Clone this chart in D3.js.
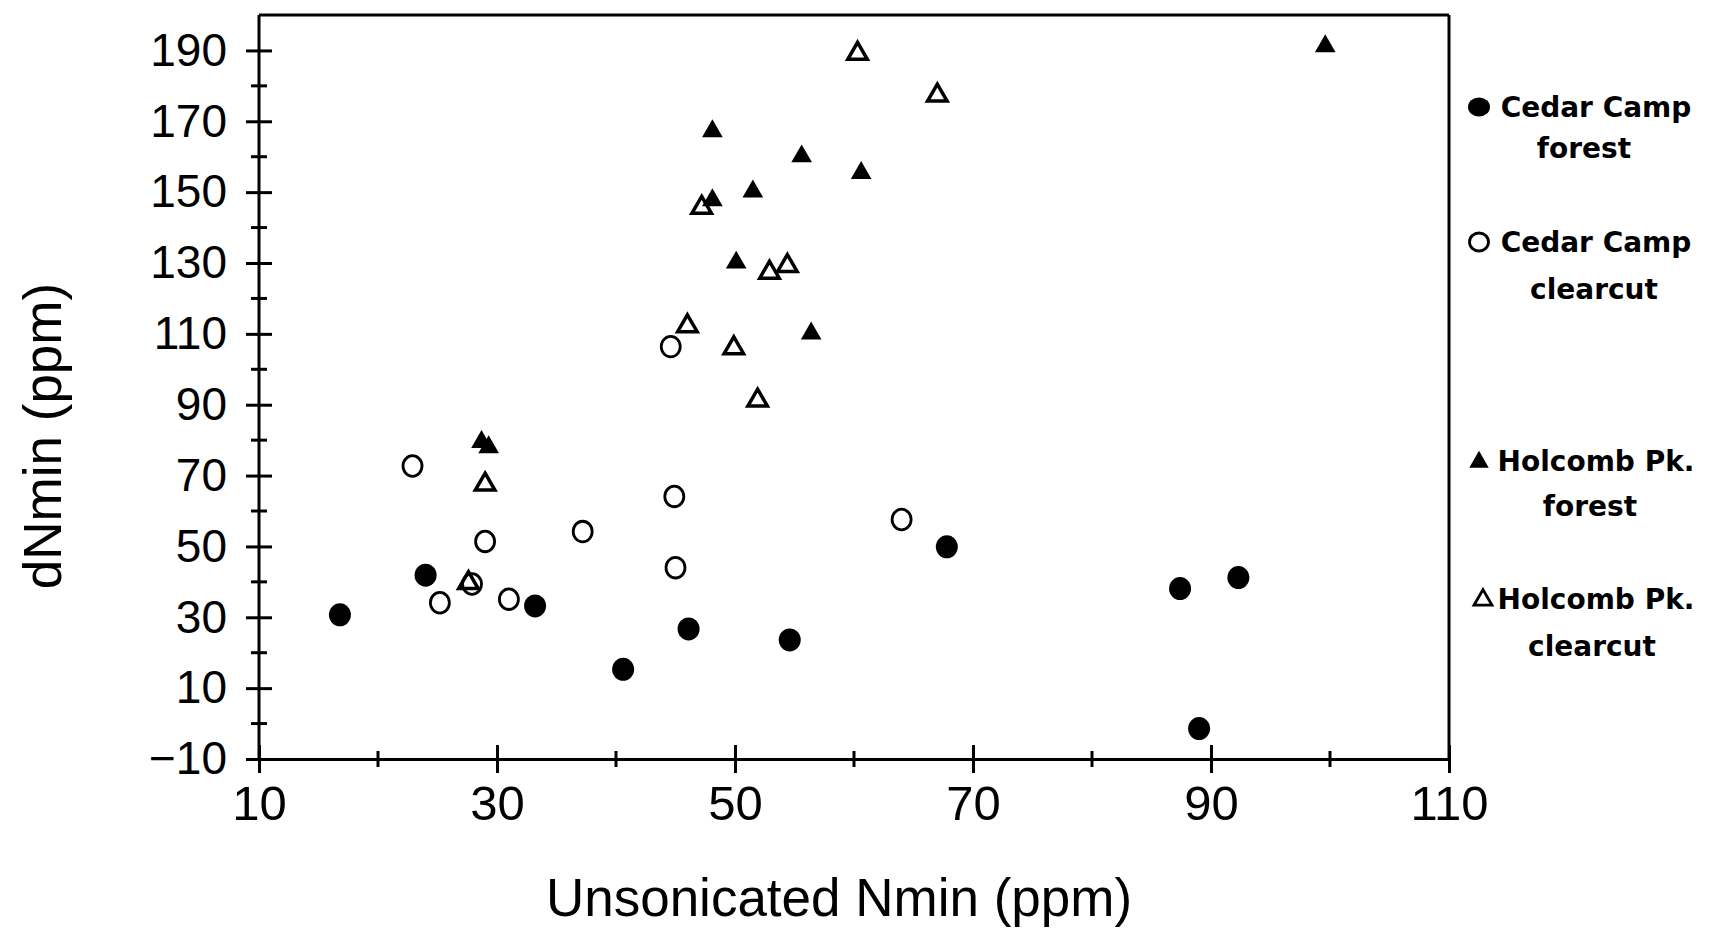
<!DOCTYPE html>
<html>
<head>
<meta charset="utf-8">
<script src="https://cdn.jsdelivr.net/npm/d3@7"></script>
<style>
  body { margin: 0; background: #fff; }
  svg { display: block; }
</style>
</head>
<body>
<svg id="chart" width="1715" height="929"></svg>
<script>
// values: [unsonicated Nmin, dNmin] in ppm
const cedarForest = [
    [16.8, 30.7], [24.0, 41.9], [33.2, 33.2], [40.6, 15.3], [46.1, 26.7],
    [54.6, 23.6], [67.8, 49.9], [87.4, 38.1], [92.3, 41.2], [89.0, -1.4]
];
const cedarClearcut = [
    [22.9, 72.7], [25.2, 34.1], [27.9, 39.4], [29.0, 51.4], [31.0, 35.1],
    [37.2, 54.2], [44.6, 106.4], [44.9, 64.1], [45.0, 44.0], [64.0, 57.6]
];
const holcombForest = [
    [99.6, 191.2], [48.1, 167.2], [55.6, 160.1], [60.6, 155.4], [51.5, 150.2],
    [48.1, 147.7], [50.1, 130.1], [56.4, 110.1], [28.7, 79.5], [29.3, 78.0]
];
const holcombClearcut = [
    [60.3, 189.1], [67.0, 177.3], [47.2, 145.6], [52.9, 127.3], [54.4, 129.2],
    [46.0, 112.2], [49.9, 106.0], [51.9, 91.2], [29.0, 67.5], [27.6, 39.7]
];

const xMajor = [10, 30, 50, 70, 90, 110];
const xMinor = [20, 40, 60, 80, 100];
const yMajor = [-10, 10, 30, 50, 70, 90, 110, 130, 150, 170, 190];
const yMinor = [0, 20, 40, 60, 80, 100, 120, 140, 160, 180];

const legendLines = [
    ["Cedar Camp", "forest"],
    ["Cedar Camp", "clearcut"],
    ["Holcomb Pk.", "forest"],
    ["Holcomb Pk.", "clearcut"]
];

const svg = d3.select("#chart");
const margin = { top: 15, right: 266, bottom: 170, left: 259 };
const width = 1715 - margin.left - margin.right;
const height = 929 - margin.top - margin.bottom;

const x = d3.scaleLinear().domain([10, 110]).range([0, width]);
const y = d3.scaleLinear().domain([-10, 200]).range([height, 0]);

const g = svg.append("g")
    .attr("transform", `translate(${margin.left},${margin.top})`);

// frame: top and right lines
g.append("line")
    .attr("x1", 0).attr("x2", width).attr("y1", 0).attr("y2", 0)
    .attr("stroke", "#000").attr("stroke-width", 3);
g.append("line")
    .attr("x1", width).attr("x2", width).attr("y1", 0).attr("y2", height)
    .attr("stroke", "#000").attr("stroke-width", 3);

// y axis
const yAxis = g.append("g")
    .call(d3.axisLeft(y)
        .tickValues(yMajor)
        .tickSizeInner(13)
        .tickSizeOuter(0)
        .tickPadding(19)
        .tickFormat(d => d < 0 ? "\u2212" + Math.abs(d) : d));
yAxis.select(".domain").attr("stroke-width", 3).attr("d", `M0,${height}V0`);
yAxis.selectAll(".tick line").attr("x1", -13).attr("x2", 13).attr("stroke-width", 3);
yAxis.selectAll(".tick text")
    .attr("font-family", "'Liberation Sans', Arial, sans-serif")
    .attr("font-size", 46);

g.append("g").selectAll("line")
    .data(yMinor)
    .join("line")
    .attr("x1", -8).attr("x2", 8)
    .attr("y1", d => y(d)).attr("y2", d => y(d))
    .attr("stroke", "#000").attr("stroke-width", 3);

// x axis
const xAxis = g.append("g")
    .attr("transform", `translate(0,${height})`)
    .call(d3.axisBottom(x)
        .tickValues(xMajor)
        .tickSizeInner(14)
        .tickSizeOuter(0)
        .tickPadding(12));
xAxis.select(".domain").attr("stroke-width", 3);
xAxis.selectAll(".tick line").attr("y1", -14).attr("y2", 14).attr("stroke-width", 3);
xAxis.selectAll(".tick text")
    .attr("font-family", "'Liberation Sans', Arial, sans-serif")
    .attr("font-size", 49);

g.append("g").selectAll("line")
    .data(xMinor)
    .join("line")
    .attr("x1", d => x(d)).attr("x2", d => x(d))
    .attr("y1", height - 8).attr("y2", height + 8)
    .attr("stroke", "#000").attr("stroke-width", 3);

// axis titles
svg.append("text")
    .attr("x", 839).attr("y", 916)
    .attr("text-anchor", "middle")
    .attr("font-family", "'Liberation Sans', Arial, sans-serif")
    .attr("font-size", 53)
    .text("Unsonicated Nmin (ppm)");

svg.append("text")
    .attr("transform", "translate(61,436) rotate(-90)")
    .attr("text-anchor", "middle")
    .attr("font-family", "'Liberation Sans', Arial, sans-serif")
    .attr("font-size", 53)
    .text("dNmin (ppm)");

// markers
const triFilled = d3.symbol().type(d3.symbolTriangle).size(185);
const triOpen = d3.symbol().type(d3.symbolTriangle).size(165);

g.append("g").selectAll("path")
    .data(holcombClearcut)
    .join("path")
    .attr("transform", d => `translate(${x(d[0])},${y(d[1])})`)
    .attr("d", triOpen)
    .attr("fill", "#fff").attr("stroke", "#000").attr("stroke-width", 3.5);

g.append("g").selectAll("path")
    .data(holcombForest)
    .join("path")
    .attr("transform", d => `translate(${x(d[0])},${y(d[1])})`)
    .attr("d", triFilled)
    .attr("fill", "#000");

g.append("g").selectAll("ellipse")
    .data(cedarClearcut)
    .join("ellipse")
    .attr("cx", d => x(d[0])).attr("cy", d => y(d[1]))
    .attr("rx", 9.5).attr("ry", 10.3)
    .attr("fill", "none").attr("stroke", "#000").attr("stroke-width", 2.8);

g.append("g").selectAll("ellipse")
    .data(cedarForest)
    .join("ellipse")
    .attr("cx", d => x(d[0])).attr("cy", d => y(d[1]))
    .attr("rx", 11).attr("ry", 11.5)
    .attr("fill", "#000");

// legend
const legendY = [117, 252, 471, 609];
const secondX = [1584, 1594, 1590, 1592];
const secondDy = [41, 47, 45, 47];
const legend = svg.append("g")
    .attr("font-family", "'DejaVu Sans', Verdana, sans-serif")
    .attr("font-weight", "bold")
    .attr("font-size", 28)
    .attr("text-anchor", "middle");

legendLines.forEach((lines, i) => {
    const row = legend.append("g").attr("transform", `translate(0,${legendY[i]})`);
    row.append("text").attr("x", 1596).attr("y", 0).text(lines[0]);
    row.append("text").attr("x", secondX[i]).attr("y", secondDy[i]).text(lines[1]);
});

const lm = legend.append("g");
lm.append("ellipse").attr("cx", 1479).attr("cy", legendY[0] - 10)
    .attr("rx", 11).attr("ry", 9.5).attr("fill", "#000");
lm.append("ellipse").attr("cx", 1479).attr("cy", legendY[1] - 10)
    .attr("rx", 9.5).attr("ry", 9).attr("fill", "none").attr("stroke", "#000").attr("stroke-width", 2.8);
lm.append("path").attr("transform", `translate(1479,${legendY[2] - 9})`)
    .attr("d", d3.symbol().type(d3.symbolTriangle).size(165)).attr("fill", "#000");
lm.append("path").attr("transform", `translate(1483,${legendY[3] - 9})`)
    .attr("d", d3.symbol().type(d3.symbolTriangle).size(140))
    .attr("fill", "none").attr("stroke", "#000").attr("stroke-width", 2.8);
</script>
</body>
</html>
